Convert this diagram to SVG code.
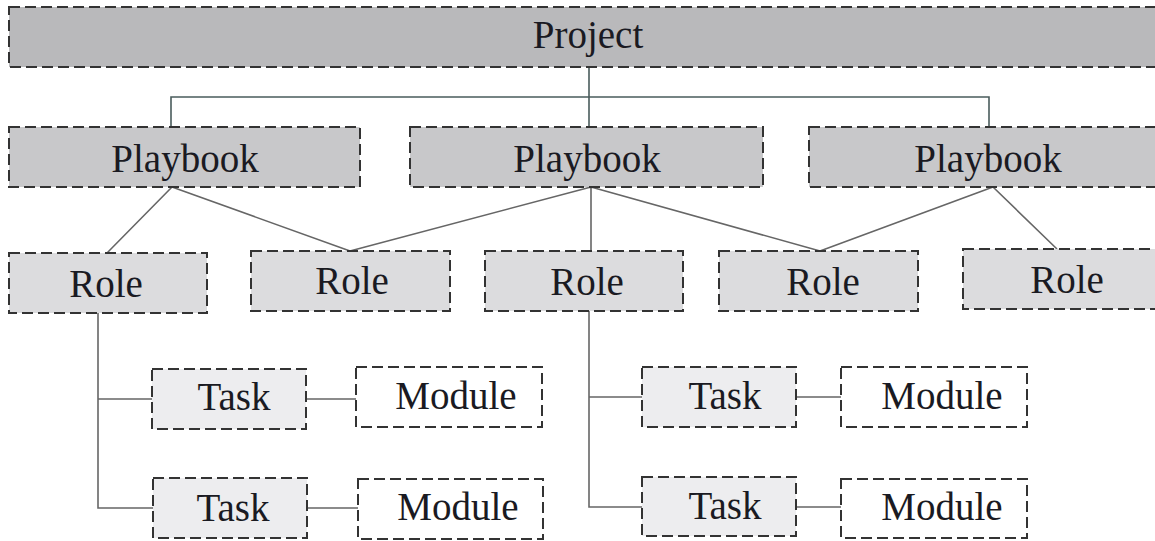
<svg xmlns="http://www.w3.org/2000/svg" width="1155" height="541" viewBox="0 0 1155 541">
<style>
.box{stroke:#333;stroke-width:2;stroke-dasharray:11 5}
.proj{fill:#b9b9bb}
.pb{fill:#c8c8ca}
.role{fill:#dcdcde}
.task{fill:#ededef}
.mod{fill:#ffffff}
text{font-family:"Liberation Serif","DejaVu Serif",serif;font-size:39px;fill:#1a1a22;text-anchor:middle}
.c{fill:none;stroke:#666;stroke-width:1.6}
.ct{fill:none;stroke:#4a5c5c;stroke-width:1.6}
</style>
<rect width="1155" height="541" fill="#fff"/>
<g id="connectors">
<path class="ct" d="M589,67 V127 M171,127 V97 H989 V127"/>
<path class="c" d="M172,187 L107,253 M172,187 L350,251"/>
<path class="c" d="M591,187 L350,251 M591,187 V251 M591,187 L820,251"/>
<path class="c" d="M993,187 L820,251 M993,187 L1057,249"/>
<path class="c" d="M98,313 V508 H153 M98,399 H152"/>
<path class="c" d="M306,399 H356 M307,508 H358"/>
<path class="c" d="M589,311 V507 H642 M589,397 H642"/>
<path class="c" d="M796,397 H841 M796,507 H841"/>
</g>
<g id="project"><rect class="box proj" x="9" y="7" width="1160" height="60"/><text x="588" y="48">Project</text></g>
<g id="playbook1"><rect class="box pb" x="9" y="127" width="351" height="60"/><text x="185" y="172">Playbook</text></g>
<g id="playbook2"><rect class="box pb" x="410" y="127" width="353" height="60"/><text x="587" y="172">Playbook</text></g>
<g id="playbook3"><rect class="box pb" x="809" y="127" width="360" height="60"/><text x="988" y="172">Playbook</text></g>
<g id="role1"><rect class="box role" x="9" y="253" width="198" height="60"/><text x="106" y="297">Role</text></g>
<g id="role2"><rect class="box role" x="251" y="251" width="199" height="60"/><text x="352" y="294">Role</text></g>
<g id="role3"><rect class="box role" x="485" y="251" width="198" height="60"/><text x="587" y="295">Role</text></g>
<g id="role4"><rect class="box role" x="719" y="251" width="199" height="60"/><text x="823" y="295">Role</text></g>
<g id="role5"><rect class="box role" x="963" y="249" width="205" height="60"/><text x="1067" y="293">Role</text></g>
<g id="task1"><rect class="box task" x="152" y="369" width="154" height="60"/><text x="234" y="410">Task</text></g>
<g id="task2"><rect class="box task" x="153" y="478" width="154" height="60"/><text x="233" y="521">Task</text></g>
<g id="task3"><rect class="box task" x="642" y="367" width="154" height="60"/><text x="725" y="409">Task</text></g>
<g id="task4"><rect class="box task" x="642" y="477" width="154" height="59"/><text x="725" y="519">Task</text></g>
<g id="module1"><rect class="box mod" x="356" y="367" width="186" height="60"/><text x="456" y="409">Module</text></g>
<g id="module2"><rect class="box mod" x="358" y="479" width="185" height="60"/><text x="458" y="520">Module</text></g>
<g id="module3"><rect class="box mod" x="841" y="367" width="186" height="60"/><text x="942" y="409">Module</text></g>
<g id="module4"><rect class="box mod" x="841" y="479" width="186" height="59"/><text x="942" y="520">Module</text></g>
</svg>
